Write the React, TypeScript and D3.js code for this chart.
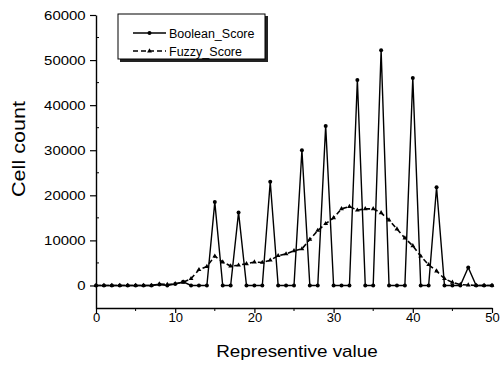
import { useEffect, useRef } from 'react';
import * as d3 from 'd3';

// representive values (x)
const representiveValues = [
  0, 1, 2, 3, 4, 5, 6, 7, 8, 9, 10, 11, 12, 13, 14, 15, 16, 17, 18, 19, 20,
  21, 22, 23, 24, 25, 26, 27, 28, 29, 30, 31, 32, 33, 34, 35, 36, 37, 38, 39, 40,
  41, 42, 43, 44, 45, 46, 47, 48, 49, 50,
];

const booleanScore = [
  0, 0, 0, 0, 0, 0, 0, 0, 200, 0, 300, 800, 0, 0, 0, 18500, 0, 0, 16200, 0, 0,
  0, 23000, 0, 0, 0, 30000, 0, 0, 35400, 0, 0, 0, 45600, 0, 0, 52200, 0, 0, 0, 46000,
  0, 0, 21800, 0, 0, 0, 4000, 0, 0, 0,
];

const fuzzyScore = [
  0, 0, 0, 0, 0, 0, 0, 0, 300, 200, 400, 700, 1500, 3500, 4200, 6500, 5200, 4300, 4500, 4800, 5200,
  5100, 5600, 6600, 7000, 7700, 8100, 10200, 12200, 13700, 15000, 17000, 17500, 16700, 17000, 17000, 16100, 14500, 12500, 10500, 8800,
  6500, 4600, 3200, 1500, 700, 200, 100, 0, 0, 0,
];

const xTicks = [0, 10, 20, 30, 40, 50];
const xMinorTicks = [5, 15, 25, 35, 45];
const yTicks = [0, 10000, 20000, 30000, 40000, 50000, 60000];
const yMinorTicks = [5000, 15000, 25000, 35000, 45000, 55000];

const legendLabels = ['Boolean_Score', 'Fuzzy_Score'];

const W = 502;
const H = 365;
const FONT = "'Liberation Sans', Arial, sans-serif";

export default function App() {
  const svgRef = useRef<SVGSVGElement>(null);

  useEffect(() => {
    const svg = d3.select(svgRef.current);
    svg.selectAll('*').remove();

    const x = d3.scaleLinear().domain([0, 50]).range([96, 492]);
    const y = d3.scaleLinear().domain([-5000, 60000]).range([308, 15]);

    // Y axis
    const yAxis = svg.append('g')
      .attr('transform', `translate(${x(0)},0)`)
      .call(d3.axisLeft(y).tickValues(yTicks).tickSize(6).tickSizeOuter(0).tickFormat(d3.format('d')));
    yAxis.select('.domain').attr('stroke-width', 1.4);
    yAxis.selectAll('line').attr('stroke-width', 1.2);
    yAxis.selectAll('text')
      .attr('x', -9)
      .attr('transform', 'scale(1.15,1)')
      .style('font-family', FONT)
      .style('font-size', '13px')
      .attr('fill', '#000');
    svg.append('g')
      .selectAll('line')
      .data(yMinorTicks)
      .enter()
      .append('line')
      .attr('x1', x(0))
      .attr('x2', x(0) + 3)
      .attr('y1', d => y(d))
      .attr('y2', d => y(d))
      .attr('stroke', '#000')
      .attr('stroke-width', 1);

    // X axis
    const xAxis = svg.append('g')
      .attr('transform', `translate(0,${y(-5000)})`)
      .call(d3.axisBottom(x).tickValues(xTicks).tickSize(5).tickSizeOuter(0));
    xAxis.select('.domain').attr('stroke-width', 1.4);
    xAxis.selectAll('line').attr('stroke-width', 1.2);
    xAxis.selectAll('text')
      .attr('y', 5)
      .style('font-family', FONT)
      .style('font-size', '13px')
      .attr('fill', '#000');
    svg.append('g')
      .selectAll('line')
      .data(xMinorTicks)
      .enter()
      .append('line')
      .attr('x1', d => x(d))
      .attr('x2', d => x(d))
      .attr('y1', y(-5000))
      .attr('y2', y(-5000) + 3)
      .attr('stroke', '#000')
      .attr('stroke-width', 1);

    // axis titles
    svg.append('text')
      .attr('transform', `translate(297,357) scale(1.18,1)`)
      .attr('text-anchor', 'middle')
      .style('font-family', FONT)
      .style('font-size', '16px')
      .text('Representive value');
    svg.append('text')
      .attr('transform', `translate(25,149) rotate(-90) scale(1.2,1)`)
      .attr('text-anchor', 'middle')
      .style('font-family', FONT)
      .style('font-size', '18px')
      .text('Cell count');

    const boolPts = representiveValues.map((v, i) => [v, booleanScore[i]] as [number, number]);
    const fuzzyPts = representiveValues.map((v, i) => [v, fuzzyScore[i]] as [number, number]);
    const line = d3.line<[number, number]>().x(d => x(d[0])).y(d => y(d[1]));

    // Fuzzy_Score (dashed, triangles)
    svg.append('path')
      .attr('d', line(fuzzyPts))
      .attr('fill', 'none')
      .attr('stroke', '#000')
      .attr('stroke-width', 1.6)
      .attr('stroke-dasharray', '5,3');
    const tri = d3.symbol().type(d3.symbolTriangle).size(10);
    svg.append('g')
      .selectAll('path')
      .data(fuzzyPts)
      .enter()
      .append('path')
      .attr('d', tri())
      .attr('transform', d => `translate(${x(d[0])},${y(d[1])})`)
      .attr('fill', '#000');

    // Boolean_Score (solid, dots)
    svg.append('path')
      .attr('d', line(boolPts))
      .attr('fill', 'none')
      .attr('stroke', '#000')
      .attr('stroke-width', 1.4);
    svg.append('g')
      .selectAll('circle')
      .data(boolPts)
      .enter()
      .append('circle')
      .attr('cx', d => x(d[0]))
      .attr('cy', d => y(d[1]))
      .attr('r', 2)
      .attr('fill', '#000');

    // Legend
    const lg = svg.append('g');
    lg.append('rect').attr('x', 120).attr('y', 16).attr('width', 148).attr('height', 46).attr('fill', '#222');
    lg.append('rect').attr('x', 118).attr('y', 14).attr('width', 147).attr('height', 45)
      .attr('fill', '#fff').attr('stroke', '#000').attr('stroke-width', 1);
    legendLabels.forEach((label, i) => {
      const ly = 33 + i * 18;
      lg.append('line')
        .attr('x1', 133).attr('x2', 166).attr('y1', ly).attr('y2', ly)
        .attr('stroke', '#000').attr('stroke-width', 1.4)
        .attr('stroke-dasharray', i === 1 ? '5,3' : null);
      if (i === 0) {
        lg.append('circle').attr('cx', 149.5).attr('cy', ly).attr('r', 2).attr('fill', '#000');
      } else {
        lg.append('path').attr('d', tri()).attr('transform', `translate(149.5,${ly})`).attr('fill', '#000');
      }
      lg.append('text')
        .attr('x', 169)
        .attr('y', ly + 4.5)
        .style('font-family', FONT)
        .style('font-size', '12.5px')
        .text(label);
    });
  }, []);

  return (
    <div style={{ position: 'absolute', left: 0, top: 0, width: W, height: H, background: '#fff' }}>
      <svg ref={svgRef} width={W} height={H} style={{ display: 'block' }}></svg>
    </div>
  );
}
